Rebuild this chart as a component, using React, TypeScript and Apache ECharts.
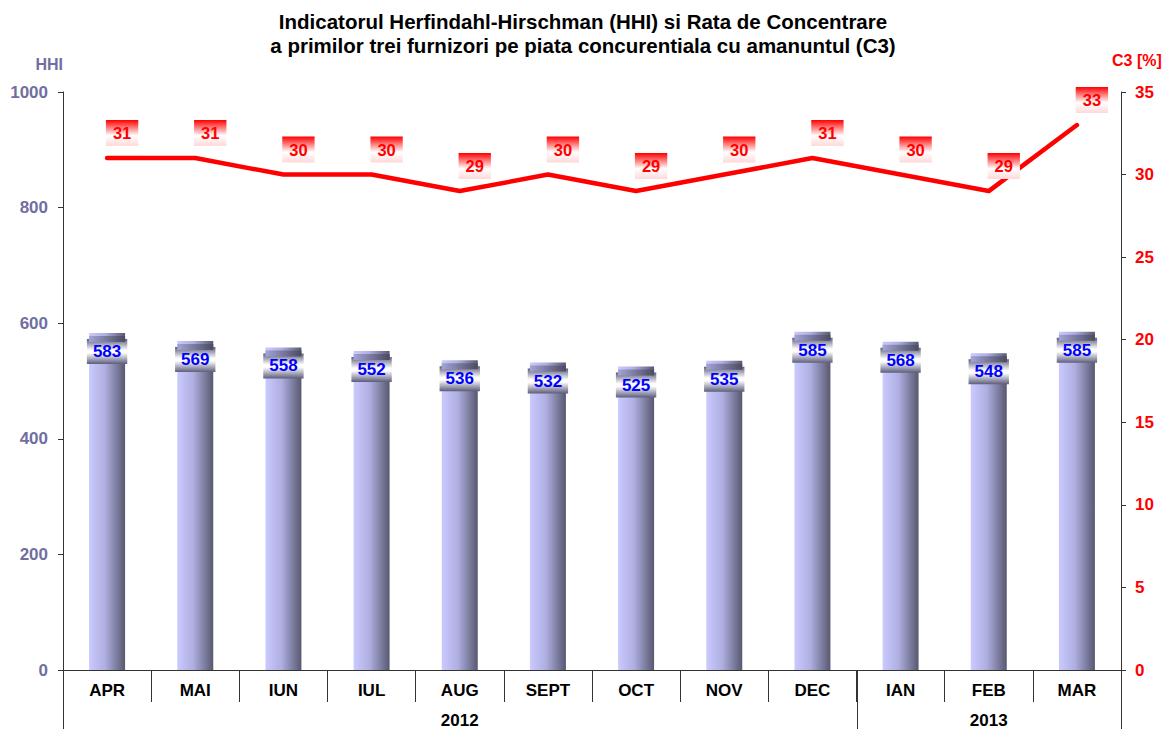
import React, { useEffect, useRef } from "react";
import * as echarts from "echarts";

const titleLines = [
  "Indicatorul Herfindahl-Hirschman (HHI) si Rata de Concentrare",
  "a primilor trei furnizori pe piata concurentiala cu amanuntul (C3)",
];
const months = ["APR", "MAI", "IUN", "IUL", "AUG", "SEPT", "OCT", "NOV", "DEC", "IAN", "FEB", "MAR"];
const yearOfMonth = ["2012", "2012", "2012", "2012", "2012", "2012", "2012", "2012", "2012", "2013", "2013", "2013"];
const hhi = [583, 569, 558, 552, 536, 532, 525, 535, 585, 568, 548, 585];
const c3 = [31, 31, 30, 30, 29, 30, 29, 30, 31, 30, 29, 33];
const hhiTicks = { min: 0, max: 1000, interval: 200 };
const c3Ticks = { min: 0, max: 35, interval: 5 };

const FONT = "'Liberation Sans', Arial, sans-serif";
const LEFT_COLOR = "#6f6fa0";
const RED = "#ff0000";

function yearGroups() {
  const groups: { label: string; start: number; end: number }[] = [];
  yearOfMonth.forEach((y, i) => {
    const last = groups[groups.length - 1];
    if (last && last.label === y) last.end = i;
    else groups.push({ label: y, start: i, end: i });
  });
  return groups;
}

export default function App() {
  const ref = useRef<HTMLDivElement>(null);
  useEffect(() => {
    document.body.style.margin = "0";
    if (!ref.current) return;
    const chart = echarts.init(ref.current, undefined, { renderer: "svg" });
    const groups = yearGroups();
    const midIdx = new Map<number, string>();
    groups.forEach((g) => midIdx.set(Math.floor((g.start + g.end) / 2), g.label));

    const barGrad = new echarts.graphic.LinearGradient(0, 0, 1, 0, [
      { offset: 0, color: "#cacaff" },
      { offset: 0.45, color: "#aeaee0" },
      { offset: 1, color: "#585870" },
    ]);
    const capGrad = new echarts.graphic.LinearGradient(0, 0, 1, 0, [
      { offset: 0, color: "#a4a4d8" },
      { offset: 1, color: "#4a4a60" },
    ]);
    const blueBox = new echarts.graphic.LinearGradient(0, 0, 0, 1, [
      { offset: 0, color: "#5c5c7c" },
      { offset: 0.45, color: "#ffffff" },
      { offset: 0.55, color: "#ffffff" },
      { offset: 1, color: "#5c5c7c" },
    ]);
    const redBox = new echarts.graphic.LinearGradient(0, 0, 0, 1, [
      { offset: 0, color: "#ff0000" },
      { offset: 0.6, color: "#ffffff" },
      { offset: 1, color: "#ffd8d8" },
    ]);

    chart.setOption({
      animation: false,
      backgroundColor: "#ffffff",
      title: {
        text: titleLines.join("\n"),
        left: "center",
        top: 4,
        textStyle: { fontFamily: FONT, fontSize: 20.5, fontWeight: "bold", color: "#000", lineHeight: 24 },
      },
      grid: { left: 63, right: 45, top: 92, bottom: 59, containLabel: false },
      xAxis: [
        {
          type: "category",
          data: months,
          boundaryGap: true,
          axisLine: { show: true, lineStyle: { color: "#333", width: 1 } },
          axisTick: { show: true, interval: 0, length: 32, lineStyle: { color: "#333" } },
          axisLabel: { interval: 0, margin: 12, fontFamily: FONT, fontSize: 17, fontWeight: "bold", color: "#000" },
          splitLine: { show: false },
        },
        {
          type: "category",
          data: months,
          position: "bottom",
          boundaryGap: true,
          axisLine: { show: false },
          axisTick: { show: false },
          axisLabel: {
            interval: 0,
            margin: 42,
            fontFamily: FONT,
            fontSize: 17,
            fontWeight: "bold",
            color: "#000",
            formatter: (_v: string, i: number) => midIdx.get(i) || "",
          },
        },
      ],
      yAxis: [
        {
          type: "value",
          ...hhiTicks,
          position: "left",
          name: "HHI",
          nameLocation: "end",
          nameGap: 20,
          nameTextStyle: { fontFamily: FONT, fontSize: 16, fontWeight: "bold", color: LEFT_COLOR, align: "right", padding: [0, 0, 0, 0] },
          axisLine: { show: true, lineStyle: { color: "#333" } },
          axisTick: { show: true, length: 5, lineStyle: { color: "#333" } },
          axisLabel: {
            margin: 15,
            fontFamily: FONT,
            fontSize: 17,
            fontWeight: "bold",
            color: LEFT_COLOR,
            formatter: (v: number) => String(v),
          },
          splitLine: { show: false },
        },
        {
          type: "value",
          ...c3Ticks,
          position: "right",
          name: "C3 [%]",
          nameLocation: "end",
          nameGap: 24,
          nameTextStyle: { fontFamily: FONT, fontSize: 16, fontWeight: "bold", color: RED, align: "left", padding: [0, 0, 0, -9] },
          axisLine: { show: true, lineStyle: { color: "#333" } },
          axisTick: { show: true, length: 5, lineStyle: { color: "#333" } },
          axisLabel: { margin: 14, fontFamily: FONT, fontSize: 17, fontWeight: "bold", color: RED },
          splitLine: { show: false },
        },
      ],
      series: [
        {
          type: "bar",
          name: "HHI",
          data: hhi,
          barWidth: 36,
          z: 2,
          itemStyle: { color: barGrad },
          label: {
            show: true,
            position: "insideTop",
            distance: 6,
            fontFamily: FONT,
            fontSize: 17,
            fontWeight: "bold",
            color: "#0000ff",
            backgroundColor: blueBox,
            padding: [4, 6, 4, 6],
            lineHeight: 17,
          },
        },
        {
          type: "pictorialBar",
          name: "cap",
          data: hhi,
          symbol: "rect",
          symbolSize: [36, 6],
          symbolPosition: "end",
          symbolOffset: [0, "50%"],
          z: 3,
          itemStyle: { color: capGrad },
          silent: true,
        },
        {
          type: "line",
          name: "C3",
          yAxisIndex: 1,
          data: c3,
          z: 5,
          symbol: "circle",
          symbolSize: 1,
          itemStyle: { color: RED },
          lineStyle: { color: RED, width: 4.5, cap: "round", join: "round" },
          label: {
            show: true,
            position: "inside",
            offset: [15, -25],
            fontFamily: FONT,
            fontSize: 16.5,
            fontWeight: "bold",
            color: RED,
            backgroundColor: redBox,
            padding: [5, 7, 4, 7],
            lineHeight: 17,
          },
        },
      ],
    });

    // long separators of the year groups, through the axis scale
    const c0 = chart.convertToPixel({ xAxisIndex: 0 }, months[0]) as number;
    const c1 = chart.convertToPixel({ xAxisIndex: 0 }, months[1]) as number;
    const band = c1 - c0;
    const yBottom = chart.convertToPixel({ yAxisIndex: 0 }, 0) as number;
    const bounds: number[] = [];
    groups.forEach((g, gi) => {
      const cs = chart.convertToPixel({ xAxisIndex: 0 }, months[g.start]) as number;
      bounds.push(cs - band / 2);
      if (gi === groups.length - 1) {
        const ce = chart.convertToPixel({ xAxisIndex: 0 }, months[g.end]) as number;
        bounds.push(ce + band / 2);
      }
    });
    chart.setOption({
      graphic: bounds.map((x) => ({
        type: "line",
        shape: { x1: Math.round(x) + 0.5, y1: yBottom, x2: Math.round(x) + 0.5, y2: 729 },
        style: { stroke: "#333", lineWidth: 1 },
        silent: true,
      })),
    });

    return () => chart.dispose();
  }, []);
  return <div ref={ref} style={{ width: 1166, height: 729 }} />;
}
